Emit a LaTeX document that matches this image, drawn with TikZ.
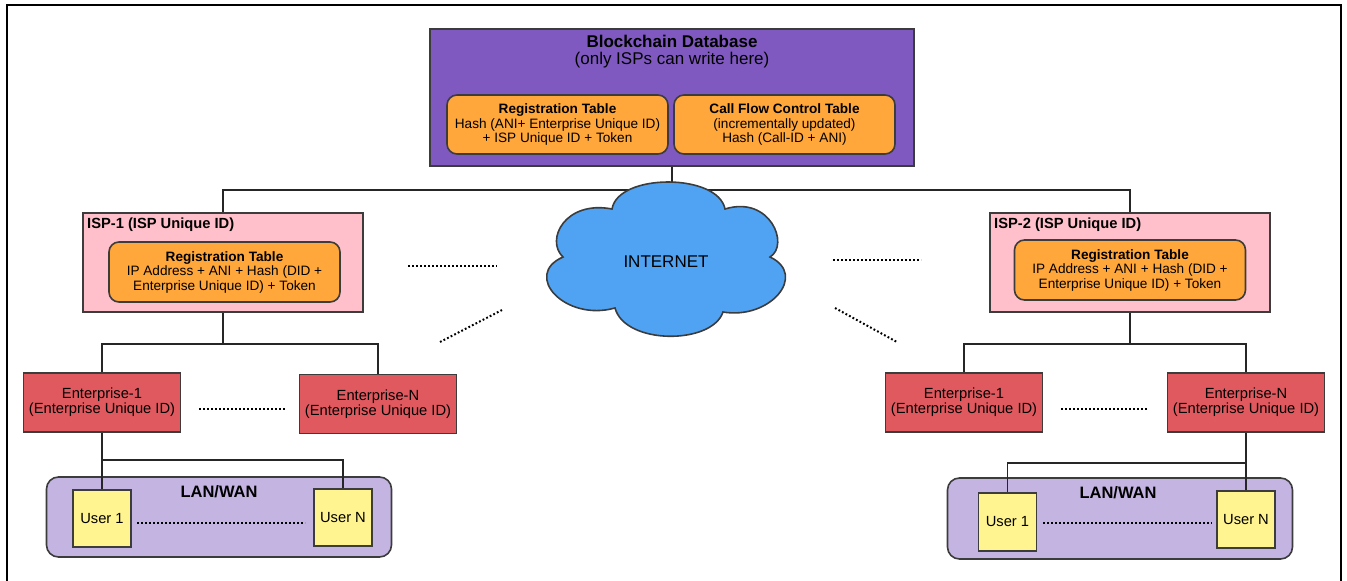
\documentclass[tikz,border=0pt]{standalone}
\usepackage{fontspec}
\setmainfont{Liberation Sans}
\usetikzlibrary{calc}
\definecolor{bcpurple}{RGB}{127,89,191}
\definecolor{tblorange}{RGB}{255,167,58}
\definecolor{isppink}{RGB}{255,192,203}
\definecolor{entred}{RGB}{224,89,94}
\definecolor{lanlav}{RGB}{196,180,226}
\definecolor{usryel}{RGB}{255,244,143}
\definecolor{cloudblue}{RGB}{80,163,242}
\definecolor{bord}{RGB}{60,60,60}
\newcommand\fsBig{\fontsize{17}{17}\selectfont}
\newcommand\fsTbl{\fontsize{13.6}{14.5}\selectfont}
\newcommand\fsMid{\fontsize{14.7}{15}\selectfont}
\newcommand\fsLan{\fontsize{16.5}{17}\selectfont}
\begin{document}
\begin{tikzpicture}[x=1pt,y=-1pt,
  bx/.style={draw=bord, line width=1.6pt, inner sep=0pt, align=center},
  rbx/.style={bx, rounded corners=10pt},
  tbl/.style={rbx, fill=tblorange, font=\fsTbl, minimum width=221pt, minimum height=59pt},
  ispbox/.style={bx, fill=isppink, minimum width=280pt, minimum height=99pt},
  ispreg/.style={rbx, fill=tblorange, font=\fsTbl, minimum width=231pt, minimum height=60pt},
  ent/.style={bx, fill=entred, font=\fsMid, minimum width=157pt, minimum height=59pt},
  lan/.style={bx, rounded corners=12pt, fill=lanlav, minimum width=345pt, minimum height=80pt},
  usr/.style={bx, fill=usryel, font=\fsMid, minimum width=58pt, minimum height=57pt},
  conn/.style={draw=black!85, line width=1.3pt},
  dots/.style={line width=2pt, dash pattern=on 1.8pt off 2.2pt},
  lbl/.style={inner sep=0pt, align=center}]
\useasboundingbox (0,0) rectangle (1347,581);
% frame
\draw[line width=1.5pt] (7,581) -- (7,5) -- (1341,5) -- (1341,581);

% blockchain
\node[bx, fill=bcpurple, minimum width=484pt, minimum height=137pt] (bc) at (672,97.5) {};
\node[lbl, font=\fsBig] (bct) at (672,52) {\textbf{Blockchain Database}\\(only ISPs can write here)};
\node[tbl] (reg0) at (557.5,124.5) {\textbf{Registration Table}\\Hash (ANI+ Enterprise Unique ID)\\+ ISP Unique ID + Token};
\node[tbl] (cfc) at (784.5,124.5) {\textbf{Call Flow Control Table}\\(incrementally updated)\\Hash (Call-ID + ANI)};

% ISPs
\node[ispbox] (isp1) at (223,262.5) {};
\node[lbl, font=\fsMid\bfseries, anchor=west] (isp1t) at (87,225) {ISP-1 (ISP Unique ID)};
\node[ispreg] (isp1reg) at (224.5,272) {\textbf{Registration Table}\\IP Address + ANI + Hash (DID +\\Enterprise Unique ID) + Token};
\node[ispbox] (isp2) at (1130,262.5) {};
\node[lbl, font=\fsMid\bfseries, anchor=west] (isp2t) at (994,225) {ISP-2 (ISP Unique ID)};
\node[ispreg] (isp2reg) at (1130,270) {\textbf{Registration Table}\\IP Address + ANI + Hash (DID +\\Enterprise Unique ID) + Token};

% enterprises
\node[ent] (e1L) at (102,402.5) {Enterprise-1\\(Enterprise Unique ID)};
\node[ent] (eNL) at (378,404) {Enterprise-N\\(Enterprise Unique ID)};
\node[ent] (e1R) at (964,402.5) {Enterprise-1\\(Enterprise Unique ID)};
\node[ent] (eNR) at (1246,402.5) {Enterprise-N\\(Enterprise Unique ID)};

% LANs
\node[lan] (lanL) at (219,517) {};
\node[lbl, font=\fsLan\bfseries] (lanLt) at (219,492) {LAN/WAN};
\node[lan, minimum height=81pt] (lanR) at (1120,518.5) {};
\node[lbl, font=\fsLan\bfseries] (lanRt) at (1118,493) {LAN/WAN};

% connectors
\coordinate (busT) at (672,190);
\coordinate (bus1) at (223,344);
\coordinate (bus2) at (1130,344);
\coordinate (lbL) at (102,460);
\coordinate (lbR) at (1246,463);
\draw[conn] (bc.south) -- (busT);
\draw[conn] (isp1.north) |- (busT) -| (isp2.north);
\draw[conn] (isp1.south) -- (bus1);
\draw[conn] (e1L.north) |- (bus1) -| (eNL.north);
\draw[conn] (isp2.south) -- (bus2);
\draw[conn] (e1R.north) |- (bus2) -| (eNR.north);

% users
\node[usr] (u1L) at (102,518.5) {User 1};
\node[usr] (uNL) at (343,517.5) {User N};
\node[usr, minimum height=58pt] (u1R) at (1007.5,522) {User 1};
\node[usr] (uNR) at (1246,519.5) {User N};

\draw[conn] (e1L.south) -- (u1L.north);
\draw[conn] (lbL) -| (uNL.north);
\draw[conn] (eNR.south) -- (uNR.north);
\draw[conn] (lbR) -| (u1R.north);

% cloud
\draw[draw=bord, line width=1.6pt, fill=cloudblue]
  (612,209) .. controls (618,173) and (718,173) .. (725,209)
  .. controls (770,195) and (790,245) .. (770,257)
  .. controls (808,275) and (770,320) .. (723,312)
  .. controls (712,345) and (625,345) .. (615,308)
  .. controls (565,322) and (522,275) .. (563,257)
  .. controls (545,240) and (565,200) .. (612,209) -- cycle;
\node[lbl, font=\fsBig] (inet) at (666,262) {INTERNET};

% dotted lines
\draw[dots] (408,266) -- (497,266);
\draw[dots] (440,342) -- (502,310);
\draw[dots] (833,260) -- (921,260);
\draw[dots] (835,308) -- (897,342);
\draw[dots] (199,409) -- (286,409);
\draw[dots] (1061,409) -- (1148,409);
\draw[dots] (137,523) -- (305,523);
\draw[dots] (1043,523) -- (1212,523);
\end{tikzpicture}
\end{document}
